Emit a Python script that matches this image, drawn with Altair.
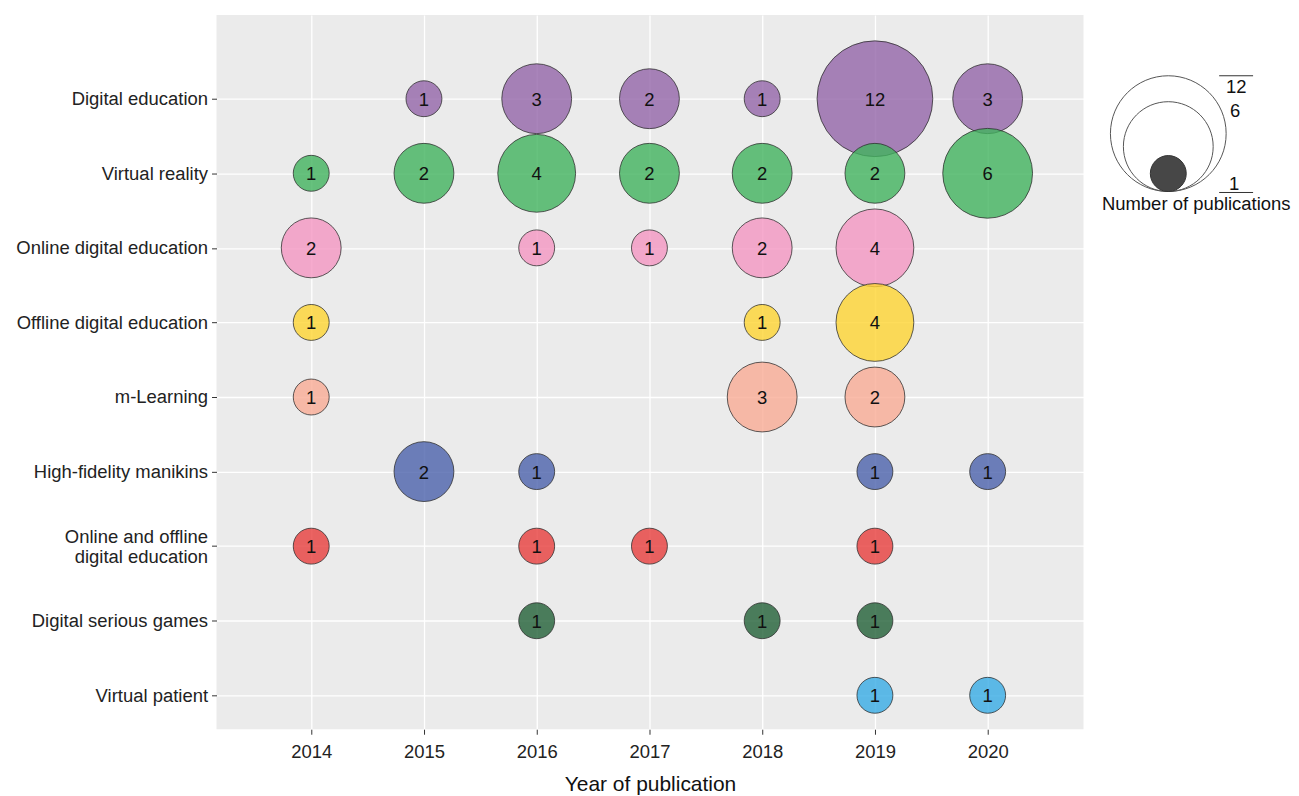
import json
import altair as alt
import pandas as pd

# ---------------- data ----------------
years = [2014, 2015, 2016, 2017, 2018, 2019, 2020]
categories = [
    "Digital education",
    "Virtual reality",
    "Online digital education",
    "Offline digital education",
    "m-Learning",
    "High-fidelity manikins",
    "Online and offline digital education",
    "Digital serious games",
    "Virtual patient",
]
digital_education = [None, 1, 3, 2, 1, 12, 3]
virtual_reality = [1, 2, 4, 2, 2, 2, 6]
online_digital_education = [2, None, 1, 1, 2, 4, None]
offline_digital_education = [1, None, None, None, 1, 4, None]
m_learning = [1, None, None, None, 3, 2, None]
high_fidelity_manikins = [None, 2, 1, None, None, 1, 1]
online_offline_digital_education = [1, None, 1, 1, None, 1, None]
digital_serious_games = [None, None, 1, None, 1, 1, None]
virtual_patient = [None, None, None, None, None, 1, 1]
legend_values = [12, 6, 1]

series = [
    digital_education, virtual_reality, online_digital_education,
    offline_digital_education, m_learning, high_fidelity_manikins,
    online_offline_digital_education, digital_serious_games, virtual_patient,
]

# ---------------- styles ----------------
colors = ["#9465A9", "#41B35E", "#F496C2", "#FED432", "#F9AB95",
          "#4B61AB", "#E73D3C", "#226037", "#37ABE5"]
size_domain = [1, 2, 3, 4, 6, 12]
size_range = [1296, 3600, 4900, 6084, 8100, 13456]
FONT = "Liberation Sans"

rows = []
for i, (cat, vals) in enumerate(zip(categories, series)):
    for yr, v in zip(years, vals):
        if v is not None:
            rows.append({"category": cat, "idx": i, "year": yr, "count": v})
df = pd.DataFrame(rows)

two_line = "Online and offline digital education"
two_line_idx = categories.index(two_line)
label_list = [c if c != two_line else ["Online and offline", "digital education"]
              for c in categories]
label_expr = json.dumps(label_list) + "[datum.value]"

size_scale = alt.Scale(domain=size_domain, range=size_range, zero=False, nice=False)
x_enc = alt.X(
    "year:Q",
    scale=alt.Scale(domain=[2013.16, 2020.85], nice=False, zero=False),
    axis=alt.Axis(values=years, format="d", title="Year of publication",
                  labelPadding=8, titlePadding=13),
)
y_enc = alt.Y(
    "idx:Q",
    scale=alt.Scale(domain=[-1.124, 8.455], reverse=True, nice=False, zero=False),
    axis=alt.Axis(values=list(range(len(categories))), labelExpr=label_expr,
                  title=None, labelPadding=4, labelLineHeight=20,
                  labelOverlap=False, labelFlush=False, labelLimit=400,
                  labelOffset={"condition": {"test": f"datum.value == {two_line_idx}",
                                             "value": -10}, "value": 0}),
)

base = alt.Chart(df)
bubbles = base.mark_point(
    shape="circle", filled=True, fillOpacity=0.8,
    stroke="#2b2b2b", strokeWidth=0.9, strokeOpacity=0.85, opacity=1,
).encode(
    x=x_enc,
    y=y_enc,
    fill=alt.Fill("category:N", scale=alt.Scale(domain=categories, range=colors), legend=None),
    size=alt.Size("count:Q", scale=size_scale, legend=None),
)
labels = base.mark_text(fontSize=18.5, font=FONT, color="#111111", baseline="middle", dy=1).encode(
    x=alt.X("year:Q"), y=alt.Y("idx:Q"), text=alt.Text("count:Q", format="d"),
)

# ---------------- hand-built size legend ----------------
bottom_circle = ("M0,0 C0.5523,0 1,-0.4477 1,-1 C1,-1.5523 0.5523,-2 0,-2 "
                 "C-0.5523,-2 -1,-1.5523 -1,-1 C-1,-0.4477 -0.5523,0 0,0 Z")
LEG_X, LEG_Y = 954, 177
leg_open = alt.Chart(pd.DataFrame({"count": legend_values[:2]})).mark_point(
    shape=bottom_circle, filled=False, stroke="#555555", strokeWidth=1, opacity=1,
).encode(
    x=alt.value(LEG_X), y=alt.value(LEG_Y),
    size=alt.Size("count:Q", scale=size_scale, legend=None),
)
leg_fill = alt.Chart(pd.DataFrame({"count": legend_values[2:]})).mark_point(
    shape=bottom_circle, filled=True, fill="#474747", stroke="#333333",
    strokeWidth=1, opacity=1, fillOpacity=1,
).encode(
    x=alt.value(LEG_X), y=alt.value(LEG_Y),
    size=alt.Size("count:Q", scale=size_scale, legend=None),
)
leg_rules = [
    alt.Chart(pd.DataFrame({"a": [0]})).mark_rule(color="#333333", strokeWidth=1).encode(
        x=alt.value(1005), x2=alt.value(1039), y=alt.value(61)),
    alt.Chart(pd.DataFrame({"a": [0]})).mark_rule(color="#333333", strokeWidth=1).encode(
        x=alt.value(1005), x2=alt.value(1039), y=alt.value(178)),
]
leg_text_pos = [(1022, 72.5), (1021, 96), (1020, 170)]
leg_texts = []
for v, (tx, ty) in zip(legend_values, leg_text_pos):
    leg_texts.append(
        alt.Chart(pd.DataFrame({"a": [0]})).mark_text(
            fontSize=18.5, font=FONT, color="#111111", baseline="middle", align="center",
        ).encode(x=alt.value(tx), y=alt.value(ty), text=alt.value(str(v)))
    )
leg_title = alt.Chart(pd.DataFrame({"a": [0]})).mark_text(
    fontSize=18.5, font=FONT, color="#111111", baseline="middle", align="center",
).encode(x=alt.value(982), y=alt.value(189.5), text=alt.value("Number of publications"))

chart = alt.layer(
    bubbles, labels, leg_open, leg_fill, *leg_rules, *leg_texts, leg_title
).properties(
    width=869, height=716,
    padding={"left": 7, "top": 6, "right": 0, "bottom": 0},
).configure(font=FONT).configure_view(
    fill="#EBEBEB", strokeWidth=0,
).configure_axis(
    domain=False, grid=True, gridColor="#FFFFFF", gridWidth=1.3,
    tickColor="#333333", tickSize=5, labelFontSize=18.5, labelColor="#222222",
    labelFont=FONT, titleFont=FONT, titleFontSize=21, titleFontWeight="normal",
    titleColor="#111111",
)

chart.save("out.html", embed_options={"renderer": "svg", "actions": False})
